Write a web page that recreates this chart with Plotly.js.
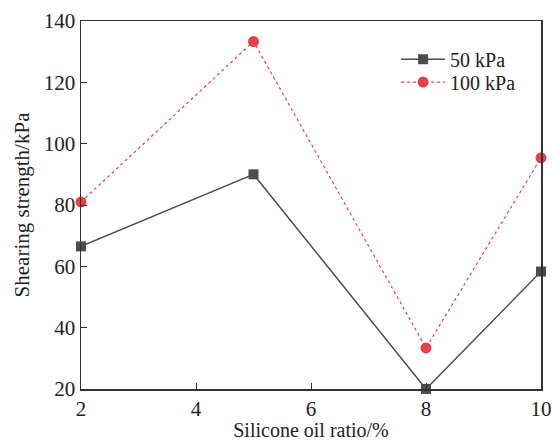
<!DOCTYPE html>
<html><head><meta charset="utf-8">
<script src="https://cdn.plot.ly/plotly-3.0.1.min.js"></script>
<style>html,body{margin:0;padding:0;background:#fff}</style>
</head><body><div id="chart" style="width:554px;height:441px"></div>
<script>
const silicone = [2, 5, 8, 10];
const s50 = [66.5, 90, 20, 58.3];
const s100 = [81, 133.3, 33.4, 95.4];
const names = ['50 kPa', '100 kPa'];

const fam = "'Liberation Serif', 'Times New Roman', serif";
const fnt = {family: fam, color: '#222'};
const traces = [
  {x: silicone, y: s50, name: names[0], mode: 'lines+markers', cliponaxis: false, legend: 'legend',
   line: {color: '#4d4d4d', width: 1.5}, marker: {symbol: 'square', size: 10, color: '#4d4d4d'}},
  {x: silicone, y: s100, name: names[1], mode: 'lines+markers', cliponaxis: false, legend: 'legend2',
   line: {color: '#e8404a', width: 1.2, dash: 'dot'}, marker: {symbol: 'circle', size: 11, color: '#e8404a'}}
];
const legBase = {x: 0.685, xanchor: 'left', yanchor: 'middle', bgcolor: 'rgba(0,0,0,0)',
    font: Object.assign({size: 20}, fnt), itemwidth: 44};
const layout = {
  width: 554, height: 441,
  margin: {l: 81, r: 13, t: 21, b: 52},
  paper_bgcolor: '#fff', plot_bgcolor: '#fff',
  font: Object.assign({size: 21}, fnt),
  showlegend: true,
  legend: Object.assign({y: 0.896}, legBase),
  legend2: Object.assign({y: 0.834}, legBase),
  xaxis: {range: [2, 10], tickvals: [2,4,6,8,10], ticks: 'inside', ticklen: 6, tickcolor: '#333',
    showline: true, linecolor: '#333', linewidth: 1.5, mirror: true, showgrid: false, zeroline: false,
    tickfont: Object.assign({size: 21}, fnt),
    title: {text: 'Silicone oil ratio/%', font: Object.assign({size: 20}, fnt), standoff: 5}},
  yaxis: {range: [20, 140], tickvals: [20,40,60,80,100,120,140], ticks: 'inside', ticklen: 6, tickcolor: '#333',
    showline: true, linecolor: '#333', linewidth: 1.5, mirror: true, showgrid: false, zeroline: false,
    tickfont: Object.assign({size: 21}, fnt),
    title: {text: 'Shearing strength/kPa', font: Object.assign({size: 21}, fnt), standoff: 8}}
};
Plotly.newPlot('chart', traces, layout, {displayModeBar: false, staticPlot: true});
</script></body></html>
